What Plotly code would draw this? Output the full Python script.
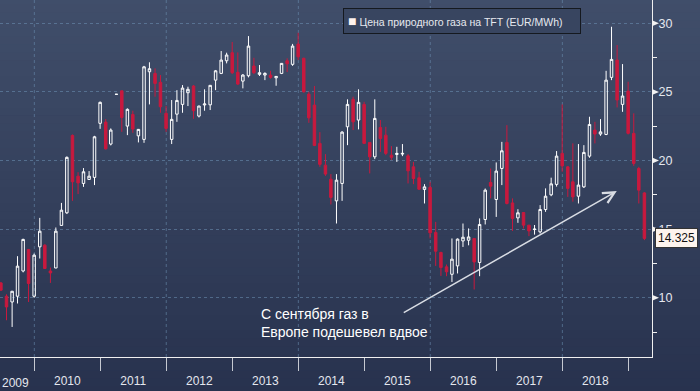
import plotly.graph_objects as go
import pandas as pd

# ---------------- data (monthly candles, EUR/MWh) ----------------
dates = pd.date_range("2009-06-30", periods=118, freq="ME")

opens = [11.08, 10.11, 9.69, 10.11, 11.95, 13.52, 10.11, 13.71, 13.83, 11.95,
         12.17, 15.27, 16.19, 21.83, 18.86, 18.33, 18.62, 18.77, 22.71, 22.80,
         21.20, 24.82, 25.08, 22.51, 23.36, 21.80, 21.54, 26.47, 26.35, 25.70,
         23.44, 21.54, 23.38, 24.09, 24.94, 25.43, 23.24, 24.05, 24.06, 25.86,
         26.35, 27.27, 27.86, 26.43, 25.79, 26.18, 26.89, 26.28, 26.23, 26.23,
         26.03, 26.35, 27.27, 27.01, 28.49, 27.45, 24.84, 24.04, 21.25, 19.66,
         18.64, 17.06, 18.33, 22.46, 24.46, 22.95, 24.09, 21.32, 20.27, 22.41,
         21.85, 20.39, 20.44, 20.47, 20.34, 19.54, 18.74, 17.89, 18.04, 14.76,
         13.30, 12.25, 11.71, 12.32, 14.14, 14.19, 14.32, 12.57, 15.70, 18.40,
         17.16, 19.42, 21.32, 16.91, 15.82, 16.21, 15.29, 14.97, 14.80, 16.43,
         17.50, 18.26, 20.52, 19.54, 18.45, 17.40, 18.08, 20.32, 22.22, 21.93,
         21.90, 26.06, 27.32, 24.09, 25.06, 21.98, 19.42, 17.64]
highs = [11.15, 10.25, 10.50, 13.03, 14.30, 13.55, 13.22, 15.82, 13.90, 12.20,
         15.12, 16.91, 20.30, 21.90, 19.15, 19.45, 19.23, 21.80, 24.30, 23.02,
         22.34, 24.85, 25.10, 23.80, 23.63, 22.30, 26.90, 27.16, 26.72, 26.23,
         23.97, 24.41, 25.13, 25.50, 25.38, 25.50, 24.00, 25.19, 25.50, 26.60,
         27.98, 27.86, 28.64, 27.88, 26.30, 29.07, 27.49, 26.96, 26.43, 26.54,
         26.15, 27.10, 27.45, 28.50, 29.31, 27.50, 25.01, 25.43, 22.07, 20.47,
         19.01, 19.01, 22.14, 24.46, 24.65, 25.19, 24.28, 21.35, 24.46, 22.95,
         22.46, 21.05, 21.00, 21.20, 20.47, 19.90, 19.18, 18.28, 18.45, 15.53,
         13.35, 12.42, 14.32, 14.32, 15.41, 15.05, 14.35, 15.78, 17.96, 19.42,
         19.86, 21.36, 22.58, 17.24, 16.45, 16.25, 15.30, 15.30, 16.75, 17.97,
         18.75, 20.69, 24.09, 19.60, 21.25, 21.20, 21.12, 23.19, 22.82, 23.02,
         26.54, 29.75, 28.42, 27.03, 25.74, 23.44, 19.54, 17.70]
lows = [10.50, 8.36, 7.87, 9.58, 11.85, 9.69, 10.00, 12.86, 12.10, 11.08,
        12.15, 15.25, 16.10, 17.06, 17.55, 18.08, 18.60, 18.21, 22.31, 20.80,
        21.10, 24.80, 22.09, 21.85, 22.02, 21.32, 21.29, 24.09, 24.65, 23.48,
        22.09, 21.20, 22.82, 23.48, 23.97, 23.04, 23.14, 23.63, 23.68, 25.13,
        26.30, 27.08, 26.30, 25.50, 25.26, 26.06, 26.30, 26.16, 25.86, 25.96,
        25.45, 26.30, 26.45, 26.90, 27.32, 24.95, 22.75, 21.05, 19.54, 18.88,
        16.80, 15.41, 17.06, 21.12, 22.22, 22.27, 21.20, 19.06, 20.10, 20.63,
        20.39, 20.03, 19.90, 20.32, 18.33, 18.28, 17.85, 16.87, 14.32, 12.32,
        11.59, 11.57, 11.15, 11.77, 13.70, 13.82, 10.60, 11.57, 15.34, 17.24,
        15.89, 18.21, 16.80, 14.87, 15.46, 15.05, 14.49, 14.60, 14.68, 16.26,
        17.40, 18.10, 19.18, 17.35, 17.00, 16.87, 18.00, 20.20, 21.25, 21.80,
        21.85, 25.86, 23.87, 23.55, 21.90, 19.61, 16.87, 14.20]
closes = [10.55, 9.33, 10.47, 12.30, 14.25, 11.04, 13.10, 14.85, 12.13, 11.81,
          14.85, 16.38, 20.23, 18.45, 18.37, 19.18, 18.86, 21.73, 24.24, 20.85,
          22.22, 24.83, 23.14, 23.73, 22.29, 22.27, 26.83, 26.69, 25.62, 23.92,
          22.34, 23.00, 24.38, 25.28, 25.19, 23.63, 23.97, 24.12, 25.48, 26.54,
          27.32, 27.69, 26.40, 25.57, 26.23, 28.34, 26.40, 26.40, 26.35, 26.06,
          26.13, 27.08, 27.05, 28.34, 27.56, 25.01, 23.11, 21.10, 19.72, 19.01,
          17.31, 18.57, 22.07, 24.09, 22.82, 24.24, 21.25, 20.27, 23.07, 21.61,
          20.52, 20.23, 20.52, 20.52, 19.25, 18.69, 17.91, 18.08, 14.73, 13.39,
          12.20, 11.89, 12.81, 14.27, 14.41, 14.43, 12.61, 15.34, 17.84, 18.13,
          19.23, 20.71, 16.87, 15.78, 16.19, 15.29, 14.87, 15.00, 16.43, 17.40,
          18.30, 20.32, 19.61, 17.97, 17.35, 18.21, 20.59, 22.63, 21.93, 22.09,
          25.86, 27.37, 24.41, 24.70, 21.98, 19.79, 17.84, 14.325]

series_name = "Цена природного газа на TFT (EUR/MWh)"
note_text = "С сентября газ в<br>Европе подешевел вдвое"
first_year_label = "2009"
last_value = closes[-1]
y_major_ticks = [10, 15, 20, 25, 30]
grid_years = ["2010-01-01", "2012-01-01", "2014-01-01", "2016-01-01", "2018-01-01"]
x_range = ["2009-06-25", "2019-05-12"]
y_range = [5.68, 31.70]
arrow_tail = ("2015-07-30", 8.85)
arrow_head = ("2018-10-29", 17.77)

# ---------------- figure ----------------
W, H = 700, 391
ML, MR, MT, MB = 0, 48, 0, 34
plot_w = W - ML - MR
plot_h = H - MT - MB
FONT = "Liberation Sans, Arial, sans-serif"

fig = go.Figure()
fig.add_trace(go.Candlestick(
    x=dates, open=opens, high=highs, low=lows, close=closes,
    name=series_name, showlegend=False,
    increasing=dict(line=dict(color="#ffffff", width=1), fillcolor="rgba(0,0,0,0)"),
    decreasing=dict(line=dict(color="#c8193e", width=1), fillcolor="#c8193e"),
    whiskerwidth=0,
    hoverinfo="skip",
))

shapes = []
# background vertical gradient
top_c = (64, 78, 106)
bot_c = (40, 50, 78)
n = 50
y_lo, y_hi = -MB / plot_h - 0.01, 1.01
for i in range(n):
    t = i / (n - 1)
    c = tuple(round(bot_c[k] + (top_c[k] - bot_c[k]) * t) for k in range(3))
    y0 = y_lo + (y_hi - y_lo) * i / n
    y1 = y_lo + (y_hi - y_lo) * (i + 1) / n
    shapes.append(dict(type="rect", xref="paper", yref="paper", x0=-0.01, x1=1.1,
                       y0=y0, y1=y1 + 0.002, fillcolor="rgb(%d,%d,%d)" % c,
                       line=dict(width=0), layer="below"))
# vertical dashed gridlines every 2 years
for gy in grid_years:
    shapes.append(dict(type="line", xref="x", yref="paper", x0=gy, x1=gy, y0=0, y1=1,
                       line=dict(color="rgba(110,145,180,0.55)", width=1, dash="3px,3px"),
                       layer="below"))
# triangular markers at major y ticks
tri_w = 7 / plot_w
tri_h = 3 / (plot_h / (y_range[1] - y_range[0]))
for v in y_major_ticks:
    shapes.append(dict(type="path", xref="paper", yref="y",
                       path="M 1,%f L %f,%f L 1,%f Z" % (v - tri_h, 1 + tri_w, v, v + tri_h),
                       fillcolor="#f2f2f2", line=dict(width=0), layer="above"))

annotations = [
    # legend box
    dict(xref="paper", yref="paper", x=343 / plot_w, y=1 - 8 / plot_h,
         xanchor="left", yanchor="top", showarrow=False, align="left",
         text='<span style="color:#fff3ee;font-size:14px">■</span> ' + series_name,
         font=dict(family=FONT, size=10.5, color="#e6e9ef"),
         bgcolor="rgba(56,69,96,1)", bordercolor="#15191f", borderwidth=1,
         borderpad=4, width=228, height=16),
    # note text
    dict(xref="paper", yref="paper", x=259 / plot_w, y=1 - 322.5 / plot_h,
         xanchor="left", yanchor="middle", showarrow=False, align="left",
         text=note_text,
         font=dict(family=FONT, size=14, color="#ffffff")),
    # arrow
    dict(x=arrow_head[0], y=arrow_head[1], xref="x", yref="y",
         ax=arrow_tail[0], ay=arrow_tail[1], axref="x", ayref="y",
         text="", showarrow=True, arrowhead=5, arrowsize=1.5, arrowwidth=1.5,
         arrowcolor="#d9dde4"),
    # last price label
    dict(xref="paper", yref="y", x=1, y=last_value, xanchor="left", yanchor="middle",
         xshift=3, showarrow=False, text="%.3f" % last_value,
         font=dict(family=FONT, size=12, color="#111111"),
         bgcolor="#fdf4ee", bordercolor="#333333", borderwidth=1, borderpad=2),
    # first (partial) year label, left-aligned at the edge
    dict(xref="paper", yref="paper", x=0, y=-(382.7 - plot_h) / plot_h,
         xanchor="left", yanchor="middle", showarrow=False, text=first_year_label,
         font=dict(family=FONT, size=12, color="#e4e7ee")),
]

fig.update_layout(
    width=W, height=H,
    margin=dict(l=ML, r=MR, t=MT, b=MB, pad=0),
    paper_bgcolor="rgb(40,50,78)",
    plot_bgcolor="rgba(0,0,0,0)",
    showlegend=False,
    hovermode=False,
    shapes=shapes,
    annotations=annotations,
    font=dict(family=FONT, color="#e4e7ee"),
    xaxis=dict(
        type="date", range=x_range, rangeslider=dict(visible=False),
        dtick="M12", tick0="2010-01-01", tickformat="%Y", ticklabelmode="period",
        ticks="outside", ticklen=13, tickcolor="#c5c9d1", tickwidth=1,
        showgrid=False, zeroline=False,
        showline=True, linecolor="#f0f0f0", linewidth=1,
        tickfont=dict(size=12, color="#e4e7ee"),
        automargin=False,
    ),
    yaxis=dict(
        side="right", range=y_range, dtick=5, tick0=0,
        ticks="", showgrid=True, gridcolor="rgba(110,145,180,0.55)", griddash="3px,3px",
        gridwidth=1, zeroline=False,
        showline=True, linecolor="#f0f0f0", linewidth=1,
        minor=dict(dtick=2.5, tick0=0, ticks="outside", ticklen=4,
                   tickcolor="#f0f0f0", tickwidth=1, showgrid=False),
        tickfont=dict(size=12.5, color="#e4e7ee"),
        ticklabelstandoff=3,
        automargin=False,
    ),
)

fig.write_html(
    "out.html",
    config={"displayModeBar": False},
    post_script="document.body.style.margin='0';document.body.style.overflow='hidden';",
)
